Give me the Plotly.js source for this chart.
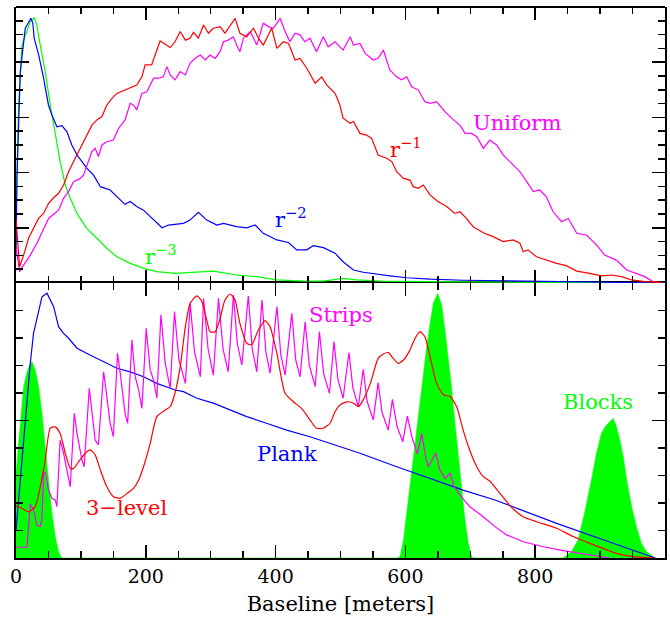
<!DOCTYPE html>
<html>
<head>
<meta charset="utf-8">
<script src="https://cdn.plot.ly/plotly-3.0.1.min.js"></script>
<style>html,body{margin:0;padding:0;background:#fff;}</style>
</head>
<body>
<div id="chart" style="width:670px;height:618px;"></div>
<script>
// ---------- Top panel: radial density profiles ----------
const uniformX = [0,5.5,11.7,22,32.3,42.5,50.2,58,65.6,73.3,81,88.7,99,104,111.8,117,122,127,132.4,140,150,158,168,176,181,186,194,201.7,212,219.6,227,232.5,237.6,245,253,261,268,276,284,291.5,299,307,314.5,319.6,327,335,340,345,350.5,361,371,381,389,396.6,407,414.6,422,430,437.7,445,453,463,473.6,481,491.6,504,515,520,530,538,550.6,558,566,576,586.6,594,602,609.7,620,630,638,648,661,674,684,692,702,710,720,730,740.6,750.7,766,776.5,787,797,807,817,827.6,840.6,851,864,879,894.5,907,925,941,956,969,980,990];
const uniformY = [0.13,0.041,0.065,0.101,0.144,0.198,0.234,0.249,0.264,0.307,0.331,0.367,0.379,0.391,0.44,0.476,0.488,0.458,0.5,0.512,0.518,0.56,0.591,0.651,0.645,0.627,0.687,0.693,0.742,0.742,0.747,0.784,0.754,0.736,0.766,0.754,0.796,0.814,0.826,0.808,0.826,0.814,0.838,0.874,0.88,0.892,0.862,0.838,0.887,0.911,0.862,0.941,0.929,0.923,0.959,0.911,0.874,0.905,0.899,0.874,0.887,0.838,0.892,0.856,0.874,0.844,0.892,0.862,0.868,0.832,0.808,0.814,0.844,0.772,0.747,0.736,0.747,0.711,0.699,0.657,0.651,0.657,0.621,0.591,0.572,0.542,0.542,0.53,0.488,0.518,0.5,0.464,0.428,0.403,0.367,0.331,0.337,0.313,0.258,0.222,0.234,0.18,0.174,0.138,0.101,0.083,0.047,0.035,0.023,0.007,0];

const r1X = [0,5.5,11.7,19.4,27,34.8,42.5,50.2,58,65.6,73.3,81,88.7,99,109,117,124.7,132.4,140,147.8,155.5,168,176,186,194,199,209,217,222,230,237.6,245,253,261,268,273.5,281,289,296.5,304,314.5,322,330,337.6,345,355.6,366,373.5,381,389,394,402,412,420,430,437.7,448,461,471,479,491.6,499,504,515,520,530,540,548,558,571,579,586.6,597,607,612,620,627.6,638,650,663.6,676,684,694,704.5,720,735,750.7,766,776.5,781.5,789,802,817,833,848,864,884,902,917.6,933,948.6,969,995];
const r1Y = [0.234,0.059,0.101,0.162,0.198,0.234,0.252,0.289,0.309,0.325,0.355,0.403,0.44,0.488,0.536,0.572,0.591,0.603,0.645,0.669,0.687,0.699,0.705,0.717,0.747,0.79,0.79,0.844,0.877,0.865,0.853,0.874,0.911,0.88,0.887,0.908,0.887,0.935,0.905,0.923,0.929,0.905,0.935,0.959,0.905,0.892,0.923,0.887,0.862,0.899,0.923,0.85,0.874,0.868,0.808,0.814,0.778,0.724,0.747,0.717,0.687,0.645,0.597,0.579,0.585,0.542,0.536,0.524,0.464,0.452,0.44,0.403,0.379,0.373,0.349,0.343,0.355,0.319,0.295,0.277,0.252,0.258,0.234,0.204,0.182,0.168,0.15,0.156,0.144,0.113,0.12,0.095,0.083,0.071,0.063,0.043,0.035,0.026,0.029,0.023,0.011,0.005,0.002];

const r2X = [0,1.5,6.6,14.3,23,26,28,35,42.5,50,55.4,63,70.8,78.5,86,94,109,119.5,130,145,155.5,168,176,186,196.5,207,217,225,235,245,258,268,281,294,309.5,319.6,340,355.6,368.5,381,401.8,419.7,432.6,448,458,473.6,491.6,504,520,535,550.6,576,602,638,689,740,850,1000];
const r2Y = [0.1,0.38,0.766,0.923,0.959,0.941,0.887,0.826,0.742,0.645,0.609,0.566,0.57,0.548,0.5,0.464,0.416,0.391,0.349,0.337,0.313,0.285,0.295,0.277,0.264,0.24,0.216,0.2,0.21,0.213,0.216,0.228,0.256,0.228,0.21,0.216,0.204,0.2,0.21,0.18,0.156,0.147,0.12,0.12,0.135,0.128,0.108,0.077,0.047,0.039,0.035,0.026,0.019,0.014,0.01,0.008,0.004,0];

const r3X = [0,4,9.2,17,22,28,32,37.4,45,52.8,60.5,68,76,83.6,94,109,124.7,140,155.5,176,196.5,217,245,268,304,340,371,402,443,473.6,491.6,504,525,561,638,800,1000];
const r3Y = [0.234,0.645,0.862,0.911,0.947,0.961,0.935,0.862,0.766,0.645,0.548,0.44,0.355,0.307,0.252,0.198,0.162,0.126,0.095,0.071,0.053,0.041,0.035,0.039,0.043,0.029,0.023,0.011,0.007,0.007,0.014,0.017,0.011,0.007,0.005,0.002,0];

// ---------- Bottom panel: array configurations ----------
const blocksX = [0,6.6,11.7,17,22,24.6,29.7,34.8,40,45,50,55.4,60.5,65.6,69,72,588,591.6,597,602,607,612,617.6,622.5,627.6,632.8,638,643,649.7,655.9,661,666,671,676.4,681.5,686.7,691.8,697,702,705,843,845.5,855.8,866,876,886.6,894.4,902,907.6,920,925.4,930.5,935.7,941,948.6,956,963.8,971.5,981.7,985];
const blocksY = [0.31,0.49,0.623,0.677,0.708,0.714,0.684,0.623,0.526,0.405,0.284,0.163,0.078,0.023,0.005,0,0,0.005,0.065,0.163,0.259,0.368,0.477,0.575,0.684,0.768,0.853,0.926,0.963,0.92,0.829,0.732,0.623,0.49,0.368,0.247,0.138,0.053,0.005,0,0,0.005,0.023,0.065,0.163,0.284,0.381,0.453,0.477,0.508,0.477,0.429,0.368,0.284,0.187,0.114,0.053,0.023,0.005,0];

const plankX = [0,6.6,14.3,22,27,34.8,40,47.7,52.8,58,65.6,73.3,81,94,114,135,155.5,176,196.5,217,245,258,278.7,304,330,355.6,386,417,453,491.6,530,586.6,638,689,738,833,935.5,985];
const plankY = [0.1,0.284,0.49,0.708,0.817,0.902,0.95,0.963,0.938,0.914,0.841,0.817,0.799,0.763,0.738,0.714,0.69,0.677,0.659,0.635,0.611,0.605,0.581,0.563,0.538,0.514,0.49,0.465,0.441,0.411,0.381,0.332,0.29,0.247,0.211,0.126,0.041,0];

const stripsX = [0,17,22,27,32,37.4,40,42.5,45,50,55.4,60.5,63,68,73.3,81,83.6,89.8,94,101.6,105,112.9,117,122,127,135,140,145,150,156.4,160.6,168,172,178.6,183.7,189,194,200.6,206.8,212,217,223.3,230,237.6,244.2,251,261,268.4,275,284,289,296,304,312,319,327,335,341,348,358,364,371,379,385,391.5,402,408,414.6,425,431,437.7,445.5,452,461,467.5,474,483,490,496,504,513,519,527.5,535,541,550.6,558,564,573.6,580,587,596,603,610,618.6,625,631,635,647,653,661,669,675,684,699,720,738,756,781.5,812.5,843,874,899,915];
const stripsY = [0.039,0.039,0.196,0.175,0.12,0.114,0.144,0.308,0.314,0.247,0.217,0.211,0.187,0.429,0.381,0.284,0.259,0.526,0.453,0.356,0.332,0.617,0.526,0.429,0.411,0.677,0.587,0.49,0.441,0.744,0.672,0.526,0.49,0.793,0.659,0.611,0.544,0.835,0.684,0.647,0.581,0.884,0.708,0.617,0.896,0.72,0.635,0.926,0.75,0.659,0.944,0.76,0.665,0.944,0.76,0.677,0.956,0.78,0.702,0.953,0.76,0.677,0.938,0.75,0.672,0.914,0.74,0.665,0.89,0.72,0.659,0.859,0.7,0.623,0.823,0.67,0.599,0.787,0.65,0.581,0.747,0.62,0.55,0.686,0.57,0.502,0.638,0.53,0.465,0.577,0.48,0.423,0.516,0.44,0.378,0.453,0.37,0.332,0.381,0.32,0.29,0.308,0.26,0.229,0.187,0.15,0.114,0.084,0.059,0.041,0.027,0.015,0.005,0];

const level3X = [0,9,19.4,29.7,37.4,45,52.8,60.5,68,76,83.6,88.7,96.4,106.7,114.4,122,130,140,150,160.6,171,181,189,196.5,206.8,217,230,237.6,245,253,261,268.4,278.7,286.4,294,299,307,314.5,322,330,337.6,345,355.6,363,373.5,384,391.5,402,414.6,427.5,440,453,463,473.6,484,491.6,499,509.6,520,527.5,535,546,558,566,573.6,581,589,597,607,615,622.5,630,638,648,658.6,669,679,689,699,710,720,730,745.6,763.6,781.5,802,833,858.5,884,904.5,925,945.6,966,985];
const level3Y = [0.189,0.181,0.168,0.187,0.259,0.356,0.472,0.477,0.453,0.381,0.326,0.326,0.35,0.381,0.393,0.375,0.32,0.259,0.223,0.217,0.235,0.253,0.284,0.332,0.417,0.514,0.538,0.55,0.6,0.696,0.841,0.926,0.953,0.932,0.865,0.823,0.823,0.872,0.938,0.96,0.938,0.853,0.781,0.775,0.829,0.863,0.841,0.744,0.599,0.568,0.544,0.502,0.472,0.472,0.49,0.532,0.556,0.568,0.563,0.55,0.575,0.635,0.726,0.742,0.747,0.726,0.708,0.72,0.756,0.799,0.823,0.805,0.732,0.635,0.593,0.587,0.55,0.465,0.393,0.332,0.296,0.28,0.235,0.184,0.15,0.132,0.108,0.078,0.053,0.035,0.017,0.007,0.002,0];

const xTickVals = [0,200,400,600,800];

const RED='#ff0000', BLUE='#0000ff', GREEN='#00ff00', MAG='#ff00ff';
const FONT='DejaVu Serif';
const LW=1.2;
const SPLIT=275/551;

function topLine(x,y,c){return {x:x,y:y,xaxis:'x2',yaxis:'y2',type:'scatter',mode:'lines',line:{color:c,width:LW},hoverinfo:'skip'};}
function botLine(x,y,c,sm){const t={x:x,y:y,xaxis:'x',yaxis:'y',type:'scatter',mode:'lines',line:{color:c,width:LW},hoverinfo:'skip'}; if(sm){t.line.shape='spline';t.line.smoothing=0.6;} return t;}

const data = [
  topLine(r3X,r3Y,GREEN),
  topLine(r2X,r2Y,BLUE),
  topLine(uniformX,uniformY,MAG),
  topLine(r1X,r1Y,RED),
  {x:blocksX,y:blocksY,xaxis:'x',yaxis:'y',type:'scatter',mode:'lines',fill:'tozeroy',fillcolor:GREEN,line:{color:GREEN,width:0.5},hoverinfo:'skip'},
  botLine(plankX,plankY,BLUE,false),
  botLine(stripsX,stripsY,MAG,false),
  botLine(level3X,level3Y,RED,true)
];

const axCommon = {
  showgrid:false, zeroline:false, showline:true, linecolor:'#000', linewidth:2,
  mirror:'ticks', ticks:'inside', ticklen:13, tickwidth:1.5, tickcolor:'#000',
  minor:{ticks:'inside', ticklen:7, tickwidth:1.5, tickcolor:'#000', showgrid:false}
};

const layout = {
  width:670, height:618,
  margin:{l:16, r:5, t:7, b:60},
  paper_bgcolor:'#fff', plot_bgcolor:'#fff',
  showlegend:false,
  font:{family:FONT, color:'#000'},
  xaxis: Object.assign({}, axCommon, {
    domain:[0,1], anchor:'y', range:[0,1000],
    tickmode:'array', tickvals:xTickVals,
    minor:Object.assign({}, axCommon.minor, {dtick:50, tick0:0}),
    tickfont:{family:FONT, size:19, color:'#000'},
    title:{text:'Baseline [meters]', font:{family:FONT, size:21, color:'#000'}, standoff:11}
  }),
  xaxis2: Object.assign({}, axCommon, {
    domain:[0,1], anchor:'y2', matches:'x', range:[0,1000], showline:false,
    tickmode:'array', tickvals:xTickVals, showticklabels:false,
    minor:Object.assign({}, axCommon.minor, {dtick:50, tick0:0})
  }),
  yaxis: Object.assign({}, axCommon, {
    domain:[0,SPLIT], anchor:'x', range:[0,1], dtick:0.5, tick0:0, showticklabels:false,
    minor:Object.assign({}, axCommon.minor, {dtick:0.1, tick0:0})
  }),
  yaxis2: Object.assign({}, axCommon, {
    domain:[SPLIT,1], anchor:'x2', range:[0,1], dtick:0.2, tick0:0, showticklabels:false,
    minor:Object.assign({}, axCommon.minor, {dtick:0.05, tick0:0})
  }),
  shapes:[
    {type:'line', xref:'paper', yref:'paper', x0:0, x1:1, y0:1, y1:1, line:{color:'#000', width:2}}
  ],
  annotations:[
    {text:'Uniform', x:772, y:0.58, xref:'x2', yref:'y2', showarrow:false, font:{family:FONT,size:21,color:MAG}},
    {text:'r<sup>−1</sup>', x:601, y:0.49, xref:'x2', yref:'y2', showarrow:false, font:{family:FONT,size:21,color:RED}},
    {text:'r<sup>−2</sup>', x:424, y:0.235, xref:'x2', yref:'y2', showarrow:false, font:{family:FONT,size:21,color:BLUE}},
    {text:'r<sup>−3</sup>', x:224, y:0.10, xref:'x2', yref:'y2', showarrow:false, font:{family:FONT,size:21,color:GREEN}},
    {text:'Strips', x:500, y:0.884, xref:'x', yref:'y', showarrow:false, font:{family:FONT,size:21,color:MAG}},
    {text:'Blocks', x:897, y:0.568, xref:'x', yref:'y', showarrow:false, font:{family:FONT,size:21,color:GREEN}},
    {text:'Plank', x:418, y:0.378, xref:'x', yref:'y', showarrow:false, font:{family:FONT,size:21,color:BLUE}},
    {text:'3−level', x:171, y:0.183, xref:'x', yref:'y', showarrow:false, font:{family:FONT,size:21,color:RED}}
  ]
};

Plotly.newPlot('chart', data, layout, {staticPlot:true, displayModeBar:false});
</script>
</body>
</html>
